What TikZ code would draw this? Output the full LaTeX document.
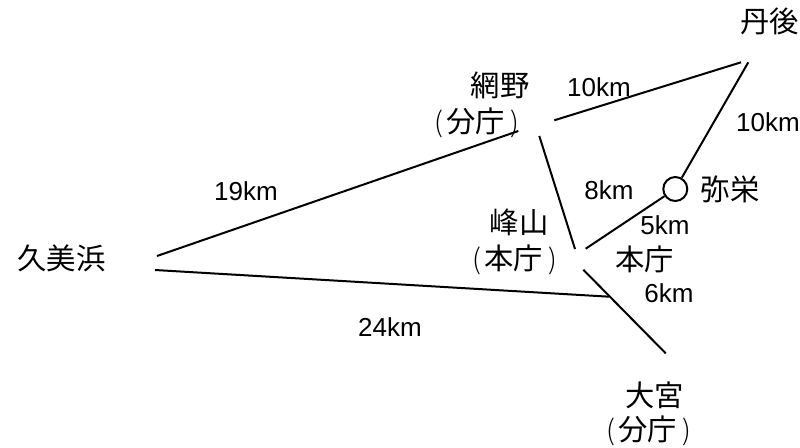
\documentclass[tikz,border=0pt]{standalone}
\usepackage{fontspec}
\setmainfont{Liberation Sans}
\newfontfamily\cjk{Noto Sans CJK JP}
\newfontfamily\cjklight[Scale=0.95]{Noto Sans CJK JP Light}
\newcommand{\kakko}[1]{{\cjklight(}\hspace{2pt}#1\hspace{4pt}{\cjklight)}}
\tikzset{
  road/.style={draw=black,line width=1.5pt},
  place/.style={inner sep=0pt,font=\cjk\fontsize{22}{26}\selectfont,align=center},
  dist/.style={inner sep=0pt,font=\fontsize{19.5}{22}\selectfont},
}
\begin{document}
\begin{tikzpicture}[x=0.75pt,y=-0.75pt]
\useasboundingbox (0,0) rectangle (800,447);
\coordinate (kumiL) at (157,256);
\coordinate (kumiM) at (155,270);
\coordinate (amiW) at (518.3,131);
\coordinate (amiE) at (554.3,120.3);
\coordinate (amiS) at (539.3,136);
\coordinate (tanW) at (741,62.3);
\coordinate (tanS) at (748.3,62.3);
\coordinate (mineN) at (575,249);
\coordinate (mineE) at (585.7,248.7);
\coordinate (mineS) at (583.3,269.7);
\coordinate (miyaN) at (665.7,353.3);
\coordinate (junc) at (609.3,296.7);
\node[circle,draw=black,line width=1.5pt,minimum size=18pt,inner sep=0pt] (yasaka) at (675.3,189) {};
\node[place] (tango) at (769.5,21) {丹後};
\node[place] (amino) at (500,85.5) {網野};
\node[place] (aminoB) at (477,123) {\kakko{分庁}};
\node[place] (yae) at (730,189) {弥栄};
\node[place] (mine) at (519,222) {峰山};
\node[place] (mineB) at (515,259.5) {\kakko{本庁}};
\node[place] (honcho) at (644.5,259) {本庁};
\node[place] (kumi) at (61.5,258) {久美浜};
\node[place] (omiya) at (654.5,395) {大宮};
\node[place] (omiyaB) at (649,431) {\kakko{分庁}};
\node[dist] (d1) at (599,87) {10km};
\node[dist] (d2) at (768,122) {10km};
\node[dist] (d3) at (609,190) {8km};
\node[dist] (d4) at (665,225) {5km};
\node[dist] (d5) at (669,293) {6km};
\node[dist] (d6) at (246,191) {19km};
\node[dist] (d7) at (390,327) {24km};
\draw[road] (kumiL) -- (amiW);
\draw[road] (amiE) -- (tanW);
\draw[road] (tanS) -- (yasaka);
\draw[road] (yasaka) -- (mineE);
\draw[road] (amiS) -- (mineN);
\draw[road] (mineS) -- (miyaN);
\draw[road] (kumiM) -- (junc);
\end{tikzpicture}
\end{document}
